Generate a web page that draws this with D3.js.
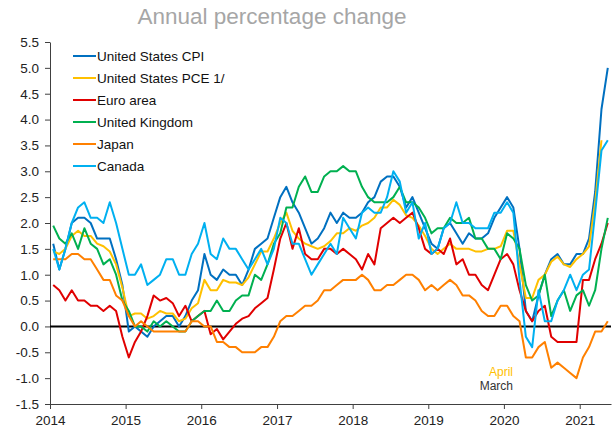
<!DOCTYPE html>
<html>
<head>
<meta charset="utf-8">
<script src="https://cdn.jsdelivr.net/npm/d3@7"></script>
<style>
	body { margin: 0; background: #fff; }
	svg { font-family: "Liberation Sans", Arial, sans-serif; }
	.axis path, .axis line { stroke: #404040; }
	.axis text { fill: #222; font-size: 13.5px; }
</style>
</head>
<body>
<div id="chart"></div>
<script>

// monthly, Jan 2014 .. May 2021
var startYear = 2014, startMonth = 0;

var usCPI = [
	1.6,1.1,1.5,2.0,2.1,2.1,2.0,1.7,1.7,1.7,1.3,0.8,
	-0.1,0.0,-0.1,-0.2,0.0,0.1,0.2,0.2,0.0,0.2,0.5,0.7,
	1.4,1.0,0.9,1.1,1.0,1.0,0.8,1.1,1.5,1.6,1.7,2.1,
	2.5,2.7,2.4,2.2,1.9,1.6,1.7,1.9,2.2,2.0,2.2,2.1,
	2.1,2.2,2.4,2.5,2.8,2.9,2.9,2.7,2.3,2.5,2.2,1.9,
	1.6,1.5,1.9,2.0,1.8,1.6,1.8,1.7,1.7,1.8,2.1,2.3,
	2.5,2.3,1.5,0.3,0.1,0.6,1.0,1.3,1.4,1.2,1.2,1.4,
	1.4,1.7,2.6,4.2,5.0
];

// ends April 2021
var usPCE = [
	1.45,1.4,1.5,1.75,1.85,1.75,1.75,1.6,1.55,1.45,1.2,0.75,
	0.2,0.25,0.25,0.15,0.2,0.3,0.25,0.25,0.1,0.15,0.35,0.45,
	0.9,0.7,0.7,0.9,0.85,0.85,0.8,0.95,1.2,1.45,1.45,1.7,
	2.0,2.2,1.85,1.7,1.6,1.55,1.5,1.55,1.65,1.8,1.8,1.9,
	1.85,1.95,2.0,2.1,2.3,2.3,2.45,2.35,2.15,2.1,1.95,1.75,
	1.5,1.4,1.5,1.6,1.5,1.5,1.5,1.45,1.45,1.5,1.5,1.55,
	1.85,1.85,1.2,0.55,0.55,0.9,1.0,1.25,1.35,1.2,1.15,1.3,
	1.4,1.55,2.4,3.6
];

var euroArea = [
	0.8,0.7,0.5,0.7,0.5,0.5,0.4,0.4,0.3,0.4,0.3,-0.2,
	-0.6,-0.3,-0.1,0.2,0.6,0.5,0.55,0.45,0.2,0.4,0.1,0.2,
	0.3,-0.15,-0.05,-0.25,-0.1,0.05,0.15,0.2,0.35,0.45,0.55,1.1,
	1.7,2.0,1.5,1.9,1.4,1.3,1.3,1.5,1.5,1.4,1.5,1.4,
	1.3,1.1,1.4,1.2,1.9,2.0,2.1,2.0,2.1,2.2,1.9,1.5,
	1.4,1.5,1.4,1.7,1.2,1.3,1.0,1.0,0.8,0.7,1.0,1.3,
	1.4,1.2,0.7,0.3,0.1,0.3,0.4,-0.2,-0.3,-0.3,-0.3,-0.3,
	0.9,0.9,1.3,1.6,2.0
];

var unitedKingdom = [
	1.95,1.7,1.6,1.8,1.5,1.9,1.6,1.5,1.2,1.3,1.0,0.5,
	0.3,0.0,0.0,-0.1,0.1,0.0,0.1,0.0,-0.1,-0.1,0.1,0.2,
	0.3,0.3,0.5,0.3,0.3,0.5,0.6,0.6,1.0,0.9,1.2,1.6,
	1.8,2.3,2.3,2.7,2.9,2.6,2.6,2.9,3.0,3.0,3.1,3.0,
	3.0,2.7,2.5,2.4,2.4,2.4,2.5,2.7,2.4,2.4,2.3,2.1,
	1.8,1.9,1.9,2.1,2.0,2.0,2.1,1.7,1.7,1.5,1.5,1.3,
	1.8,1.7,1.5,0.8,0.5,0.6,1.0,0.2,0.5,0.7,0.3,0.6,
	0.7,0.4,0.7,1.5,2.1
];

var japan = [
	1.3,1.3,1.3,1.4,1.4,1.3,1.3,1.1,0.9,0.9,0.6,0.5,
	0.2,0.0,0.1,0.0,-0.1,-0.1,-0.1,-0.1,-0.1,-0.1,0.1,0.1,
	0.0,0.0,-0.3,-0.3,-0.4,-0.4,-0.5,-0.5,-0.5,-0.4,-0.4,-0.2,
	0.1,0.2,0.2,0.3,0.4,0.4,0.5,0.7,0.7,0.8,0.9,0.9,
	0.9,1.0,0.9,0.7,0.7,0.8,0.8,0.9,1.0,1.0,0.9,0.7,
	0.8,0.7,0.8,0.9,0.8,0.6,0.6,0.5,0.3,0.2,0.2,0.4,
	0.4,0.2,0.1,-0.6,-0.6,-0.4,-0.3,-0.8,-0.7,-0.8,-0.9,-1.0,
	-0.6,-0.4,-0.1,-0.1,0.1
];

var canada = [
	1.5,1.1,1.5,2.0,2.3,2.4,2.1,2.1,2.0,2.4,2.0,1.5,
	1.0,1.0,1.2,0.8,0.9,1.0,1.3,1.3,1.0,1.0,1.4,1.6,
	2.0,1.4,1.3,1.7,1.5,1.5,1.3,1.1,1.3,1.5,1.2,1.5,
	2.1,2.0,1.6,1.6,1.3,1.0,1.2,1.4,1.6,1.4,2.1,1.9,
	1.7,2.2,2.3,2.2,2.2,2.5,3.0,2.8,2.2,2.4,1.7,2.0,
	1.4,1.5,1.9,2.0,2.4,2.0,2.0,1.9,1.9,1.9,2.2,2.2,
	2.4,2.2,0.9,-0.2,-0.4,0.7,0.1,0.1,0.5,0.7,1.0,0.7,
	1.0,1.1,2.2,3.4,3.6
];

var seriesNames = ["United States CPI","United States PCE 1/","Euro area","United Kingdom","Japan","Canada"];
var seriesValues = [usCPI, usPCE, euroArea, unitedKingdom, japan, canada];
var seriesColors = ["#0070C0","#FFC000","#E00000","#00B050","#FF8000","#00B0F0"];

var yTicks = d3.range(-1.5, 5.51, 0.5);
var yearTicks = d3.range(2014, 2022);

var width = 613, height = 427;
var margin = { top: 42, right: 2, bottom: 23, left: 50 };

var svg = d3.select("#chart").append("svg")
	.attr("width", width)
	.attr("height", height);

// month slots, points sit in the middle of each month
var x = d3.scaleTime()
	.domain([new Date(2014,0,1), new Date(2021,5,1)])
	.range([margin.left, width - margin.right]);

var y = d3.scaleLinear()
	.domain([-1.5, 5.5])
	.range([height - margin.bottom, margin.top]);

function midMonth(i){
	var a = new Date(startYear, startMonth + i, 1);
	var b = new Date(startYear, startMonth + i + 1, 1);
	return new Date((+a + +b) / 2);
}

// title
svg.append("text")
	.attr("x", 272)
	.attr("y", 24)
	.attr("text-anchor", "middle")
	.style("font-size", "22.5px")
	.style("fill", "#A6A6A6")
	.text("Annual percentage change");

// axes
svg.append("g")
	.attr("class", "y axis")
	.attr("transform", "translate(" + margin.left + ",0)")
	.call(d3.axisLeft(y)
		.tickValues(yTicks)
		.tickFormat(function(d){ return d.toFixed(1); })
		.tickSize(5)
		.tickPadding(6)
		.tickSizeOuter(0));

svg.append("g")
	.attr("class", "x axis")
	.attr("transform", "translate(0," + y(-1.5) + ")")
	.call(d3.axisBottom(x)
		.tickValues(yearTicks.map(function(yr){ return new Date(yr,0,1); }))
		.tickFormat(d3.timeFormat("%Y"))
		.tickSize(5)
		.tickPadding(6)
		.tickSizeOuter(0));

// zero line
svg.append("line")
	.attr("x1", x.range()[0])
	.attr("x2", x.range()[1])
	.attr("y1", y(0))
	.attr("y2", y(0))
	.attr("stroke", "#000")
	.attr("stroke-width", 2);

var line = d3.line()
	.x(function(d,i){ return x(midMonth(i)); })
	.y(function(d){ return y(d); });

seriesValues.forEach(function(vals, k){
	svg.append("path")
		.datum(vals)
		.attr("fill", "none")
		.attr("stroke", seriesColors[k])
		.attr("stroke-width", 2)
		.attr("stroke-linejoin", "round")
		.attr("d", line);
});

// legend
var legend = svg.append("g").attr("class", "legend");
seriesNames.forEach(function(name, k){
	var ly = 56 + k * 22;
	legend.append("line")
		.attr("x1", 73).attr("x2", 96)
		.attr("y1", ly).attr("y2", ly)
		.attr("stroke", seriesColors[k])
		.attr("stroke-width", 2);
	legend.append("text")
		.attr("x", 97)
		.attr("y", ly)
		.attr("dy", "0.35em")
		.style("font-size", "13.5px")
		.style("fill", "#111")
		.text(name);
});

// notes
svg.append("text")
	.attr("x", 513).attr("y", 372).attr("dy", "0.35em")
	.attr("text-anchor", "end")
	.style("font-size", "12px")
	.style("fill", "#FFC000")
	.text("April");
svg.append("text")
	.attr("x", 513).attr("y", 386).attr("dy", "0.35em")
	.attr("text-anchor", "end")
	.style("font-size", "12px")
	.style("fill", "#333")
	.text("March");

</script>
</body>
</html>
